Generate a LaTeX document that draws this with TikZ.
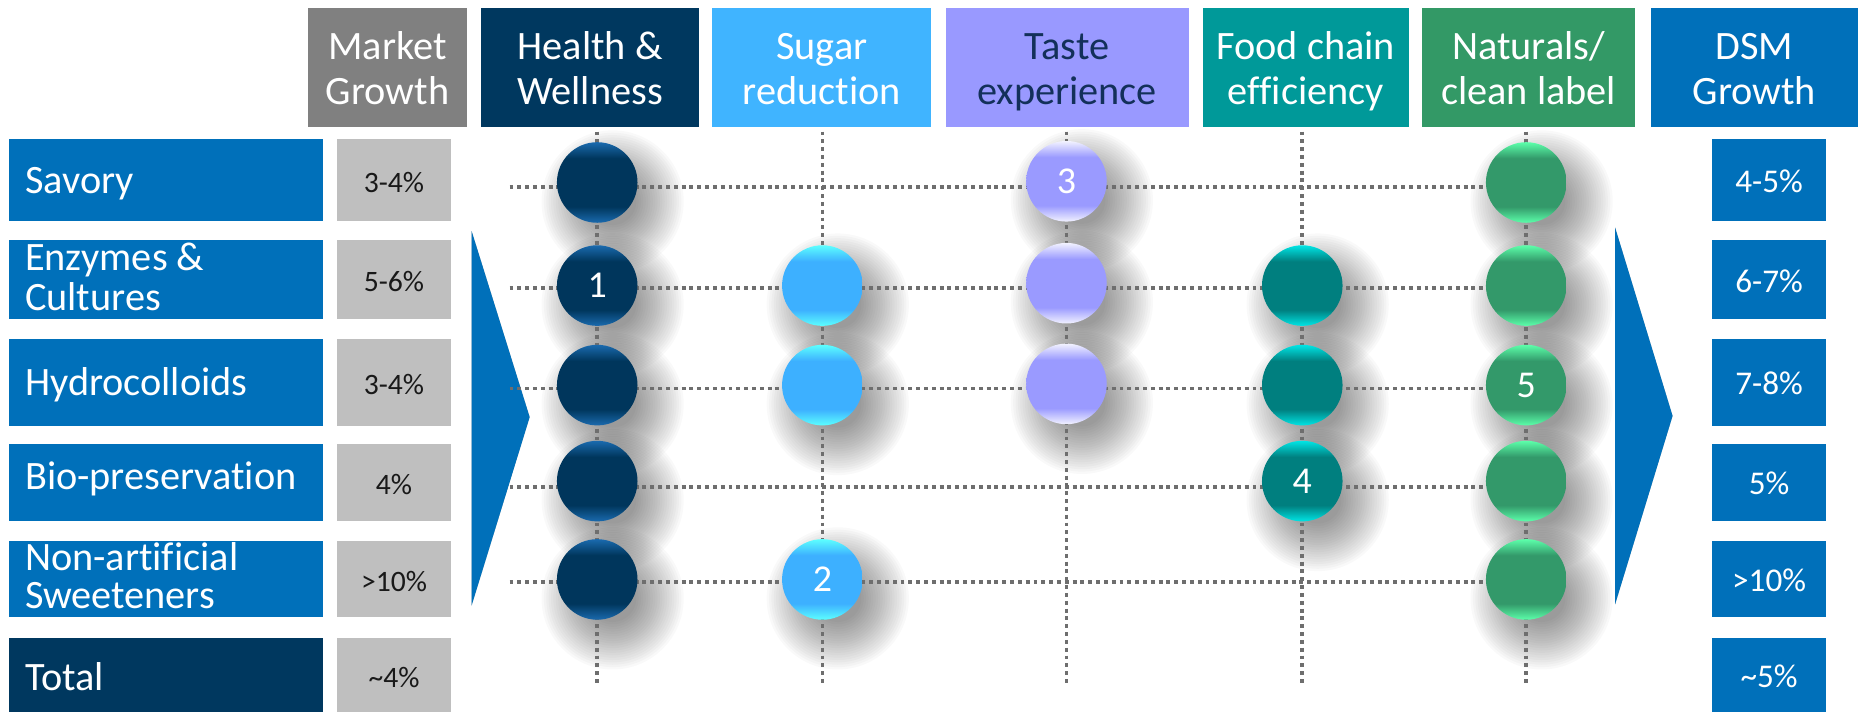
\documentclass[tikz,border=0pt]{standalone}
\usepackage{fontspec}
\setmainfont{Carlito}[Ligatures=NoCommon]

\definecolor{mktgray}{HTML}{808080}
\definecolor{valgray}{HTML}{BFBFBF}
\definecolor{navy}{HTML}{00385F}
\definecolor{sugar}{HTML}{40B4FF}
\definecolor{taste}{HTML}{9999FF}
\definecolor{food}{HTML}{009999}
\definecolor{natural}{HTML}{339966}
\definecolor{dsm}{HTML}{0070BA}
\definecolor{tastetext}{HTML}{13305A}
\definecolor{gridgray}{HTML}{6E6E6E}

\definecolor{hC}{HTML}{00365C}\definecolor{hE}{HTML}{1A6AAE}
\definecolor{sC}{HTML}{3DB0FF}\definecolor{sE}{HTML}{5CFFFF}
\definecolor{tC}{HTML}{9A9AFF}\definecolor{tE}{HTML}{F2F2FF}
\definecolor{fC}{HTML}{007F7F}\definecolor{fE}{HTML}{00E5E5}
\definecolor{nC}{HTML}{33996A}\definecolor{nE}{HTML}{5CFFAA}

\pgfdeclareverticalshading{ballH}{100bp}{color(0bp)=(hE); color(25bp)=(hE); color(35bp)=(hC); color(65bp)=(hC); color(75bp)=(hE); color(100bp)=(hE)}
\pgfdeclareverticalshading{ballS}{100bp}{color(0bp)=(sE); color(25bp)=(sE); color(35bp)=(sC); color(65bp)=(sC); color(75bp)=(sE); color(100bp)=(sE)}
\pgfdeclareverticalshading{ballT}{100bp}{color(0bp)=(tE); color(25bp)=(tE); color(35bp)=(tC); color(65bp)=(tC); color(75bp)=(tE); color(100bp)=(tE)}
\pgfdeclareverticalshading{ballF}{100bp}{color(0bp)=(fE); color(25bp)=(fE); color(35bp)=(fC); color(65bp)=(fC); color(75bp)=(fE); color(100bp)=(fE)}
\pgfdeclareverticalshading{ballN}{100bp}{color(0bp)=(nE); color(25bp)=(nE); color(35bp)=(nC); color(65bp)=(nC); color(75bp)=(nE); color(100bp)=(nE)}

\begin{document}
\begin{tikzpicture}[x=1pt,y=-1pt,
  box/.style={rectangle, inner sep=0pt, outer sep=0pt},
  hdrtxt/.style={font=\fontsize{34}{38}\selectfont, align=center, text=white, inner sep=0pt},
  lbltxt/.style={font=\fontsize{34}{30}\selectfont, align=left, text=white, inner sep=0pt},
  mval/.style={font=\fontsize{25}{30}\selectfont, text=black!90, inner sep=0pt},
  dval/.style={font=\fontsize{28}{30}\selectfont, text=white, inner sep=0pt},
  ball/.style={circle, minimum size=68pt, inner sep=0pt, text=white, font=\fontsize{32}{32}\selectfont},
  gridline/.style={gridgray, line width=3pt, dash pattern=on 3.3pt off 3.3pt},
  shadowlayer/.style={fill=black, opacity=0.022},
  arrowfill/.style={fill=dsm},
  arrowshadow/.style={fill=black, opacity=0.06}
]
\useasboundingbox (0,0) rectangle (1568,601);

% ---------- header boxes ----------
\foreach \nm/\cx/\w/\col in {hMkt/327/134/mktgray, hHW/498/184/navy, hSR/693.5/185/sugar,
    hTE/900.5/205/taste, hFC/1102/174/food, hNC/1290/180/natural, hDSM/1480.5/175/dsm}
  \node[box, fill=\col, minimum width=\w pt, minimum height=100.3pt] (\nm) at (\cx,56.9) {};

\node[hdrtxt] (tMkt) at ([yshift=-5pt]hMkt.center) {\strut Market\\\strut Growth};
\node[hdrtxt] (tHW) at ([yshift=-5pt]hHW.center) {\strut Health \&\\\strut Wellness};
\node[hdrtxt] (tSR) at ([yshift=-5pt]hSR.center) {\strut Sugar\\\strut reduction};
\node[hdrtxt, text=tastetext] (tTE) at ([yshift=-5pt]hTE.center) {\strut Taste\\\strut experience};
\node[hdrtxt] (tFC) at ([yshift=-5pt]hFC.center) {\strut Food chain\\\strut efficiency};
\node[hdrtxt] (tNC) at ([yshift=-5pt]hNC.center) {\strut Naturals/\\\strut clean label};
\node[hdrtxt] (tDSM) at ([yshift=-5pt]hDSM.center) {\strut DSM\\\strut Growth};

% ---------- row boxes ----------
\foreach \i/\cy/\h/\col in {1/151.9/68.6/dsm, 2/236/67/dsm, 3/322.75/73.5/dsm,
    4/407.1/65/dsm, 5/488.6/64/dsm, 6/569.75/62.5/navy} {
  \node[box, fill=\col, minimum width=265.5pt, minimum height=\h pt] (r\i) at (140.25,\cy) {};
  \node[box, fill=valgray, minimum width=96pt, minimum height=\h pt] (m\i) at (332.5,\cy) {};
  \node[box, fill=dsm, minimum width=96pt, minimum height=\h pt] (d\i) at (1493,\cy) {};
}

% row label texts
\node[lbltxt, anchor=base west] (l1) at (21,163) {Savory};
\node[lbltxt, anchor=west] (l2) at (21,238) {\strut Enzymes \&\\\strut Cultures};
\node[lbltxt, anchor=base west] (l3) at (21,333.5) {Hydrocolloids};
\node[lbltxt, anchor=base west] (l4) at (21,413) {Bio-preservation};
\node[lbltxt, anchor=west] (l5) at (21,490) {\strut Non-artificial\\\strut Sweeteners};
\node[lbltxt, anchor=base west] (l6) at (21,583) {Total};

% market growth values
\node[mval] (mv1) at ([yshift=-2pt]m1.center) {3-4\%};
\node[mval] (mv2) at ([yshift=-2pt]m2.center) {5-6\%};
\node[mval] (mv3) at ([yshift=-2pt]m3.center) {3-4\%};
\node[mval] (mv4) at ([yshift=-2pt]m4.center) {4\%};
\node[mval] (mv5) at ([yshift=-2pt]m5.center) {>10\%};
\node[mval] (mv6) at ([yshift=-2pt]m6.center) {\textasciitilde4\%};

% DSM growth values
\node[dval] (dv1) at ([yshift=-1pt]d1.center) {4-5\%};
\node[dval] (dv2) at ([yshift=-1pt]d2.center) {6-7\%};
\node[dval] (dv3) at ([yshift=-1pt]d3.center) {7-8\%};
\node[dval] (dv4) at ([yshift=-1pt]d4.center) {5\%};
\node[dval] (dv5) at ([yshift=-1pt]d5.center) {>10\%};
\node[dval] (dv6) at ([yshift=-1pt]d6.center) {\textasciitilde5\%};

% ---------- chevrons ----------
\coordinate (la1) at (398,195); \coordinate (la2) at (447,352); \coordinate (la3) at (398,511);
\coordinate (ra1) at (1363,192); \coordinate (ra2) at (1411.5,351); \coordinate (ra3) at (1363,510);
\foreach \dx/\dy in {2/1,4/2,6/3,8/4,10/5}{
  \fill[arrowshadow, shift={(\dx,\dy)}] (la1) -- (la2) -- (la3) -- cycle;
  \fill[arrowshadow, shift={(\dx,\dy)}] (ra1) -- (ra2) -- (ra3) -- cycle;
}
\fill[arrowfill] (la1) -- (la2) -- (la3) -- cycle;
\fill[arrowfill] (ra1) -- (ra2) -- (ra3) -- cycle;

% ---------- ball list ----------
\def\balls{1H/504/154/H/, 1T/900/153/T/3, 1N/1288/154/N/,
  2H/504/241/H/1, 2S/694/241/S/, 2T/900/239/T/, 2F/1099/241/F/, 2N/1288/241/N/,
  3H/504/325/H/, 3S/694/325/S/, 3T/900/324/T/, 3F/1099/325/F/, 3N/1288/325/N/5,
  4H/504/406/H/, 4F/1099/406/F/4, 4N/1288/406/N/,
  5H/504/489/H/, 5S/694/489/S/2, 5N/1288/489/N/}

% soft shadows (stacked translucent discs)
\foreach \n/\x/\y/\c/\t in \balls {
  \foreach \r in {60,58,...,20}
    \fill[shadowlayer] (\x+13,\y+16) circle (\r pt);
}

% ---------- grid ----------
\foreach \j/\x in {1/504, 2/694, 3/900, 4/1099, 5/1288} {
  \coordinate (vt\j) at (\x,111);
  \coordinate (vb\j) at (\x,577);
  \draw[gridline] (vt\j) -- (vb\j);
}
\foreach \i/\y in {1/158, 2/243, 3/328, 4/411, 5/491} {
  \coordinate (hl\i) at (430,\y);
  \coordinate (hr\i) at (1288,\y);
  \draw[gridline] (hl\i) -- (hr\i);
}

% balls
\foreach \n/\x/\y/\c/\t in \balls
  \node[ball, shade, shading=ball\c] (c\n) at (\x,\y) {\t};

\end{tikzpicture}
\end{document}
